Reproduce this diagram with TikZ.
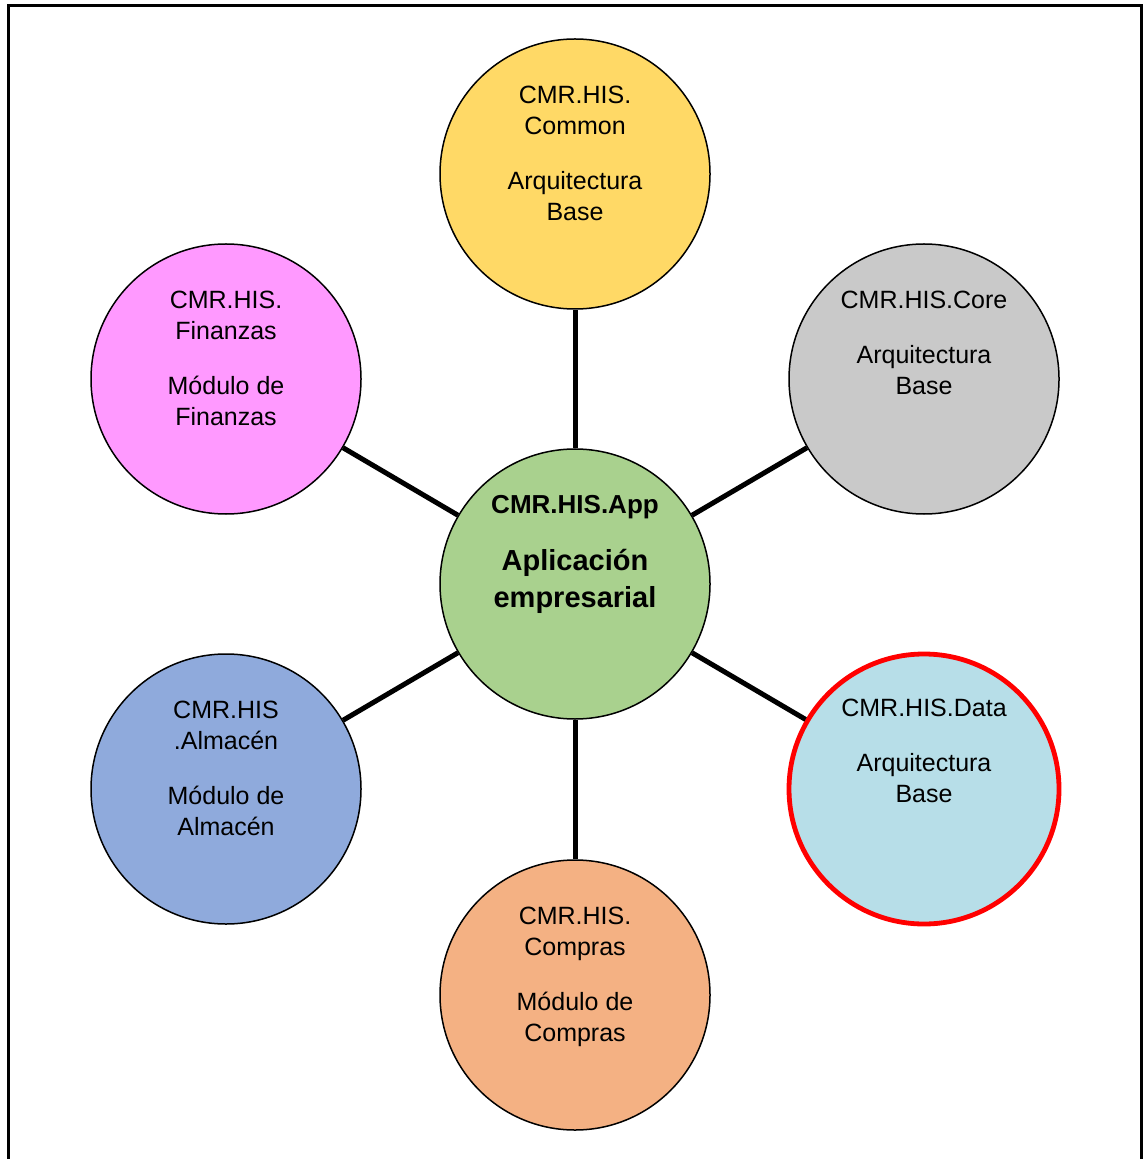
\documentclass[tikz,border=0pt]{standalone}
\usepackage{fontspec}
\setmainfont{Liberation Sans}
\usetikzlibrary{positioning}
\definecolor{hisyellow}{RGB}{255,217,102}
\definecolor{hisgray}{RGB}{201,201,201}
\definecolor{hispink}{RGB}{255,153,255}
\definecolor{hisgreen}{RGB}{169,209,142}
\definecolor{hisblue}{RGB}{143,170,220}
\definecolor{hisorange}{RGB}{244,177,131}
\definecolor{hiscyan}{RGB}{183,222,232}
\definecolor{hisred}{RGB}{255,0,0}

\begin{document}
\begin{tikzpicture}[x=0.5pt, y=-0.5pt,
    bubble/.style={circle, draw=black, line width=0.75pt, minimum size=135pt, inner sep=0pt},
    plain/.style={},
    marked/.style={draw=hisred, line width=2.4pt},
    txt/.style={align=center, inner sep=0pt, font=\fontsize{12.5}{15.5}\selectfont},
    link/.style={line width=2.5pt}]
		\useasboundingbox (0,0) rectangle (1142,1159);
		% open frame
		\draw[line width=1.5pt] (8,1165) -- (8,6) -- (1141,6) -- (1141,1165);
		% centre
		\node[bubble, fill=hisgreen] (app) at (575,584) {};
		\node[txt, font=\bfseries\fontsize{14.5}{18.5}\selectfont, below=23.5pt of app.north] (app-txt)
		  {{\fontsize{13}{16}\selectfont CMR.HIS.App}\\[10pt]
		   Aplicación\\empresarial};
		% modules
		\foreach \nm/\x/\y/\col/\st/\lbl in {
		  common/575/174/hisyellow/plain/{CMR.HIS.\\Common\\[12pt]Arquitectura\\Base},
		  core/924/379/hisgray/plain/{CMR.HIS.Core\\[12pt]Arquitectura\\Base},
		  data/924/789/hiscyan/marked/{CMR.HIS.Data\\[12pt]Arquitectura\\Base},
		  compras/575/995/hisorange/plain/{CMR.HIS.\\Compras\\[12pt]Módulo de\\Compras},
		  almacen/226/789/hisblue/plain/{CMR.HIS\\.Almacén\\[12pt]Módulo de\\Almacén},
		  finanzas/226/379/hispink/plain/{CMR.HIS.\\Finanzas\\[12pt]Módulo de\\Finanzas}}
		  {
		    \node[bubble, fill=\col, \st] (\nm) at (\x,\y) {};
		    \node[txt, below=23.5pt of \nm.north] (\nm-txt) {\lbl};
		  }
		\foreach \nm in {common,core,data,compras,almacen,finanzas}
		  \draw[link] (app) -- (\nm);
	\end{tikzpicture}
\end{document}
